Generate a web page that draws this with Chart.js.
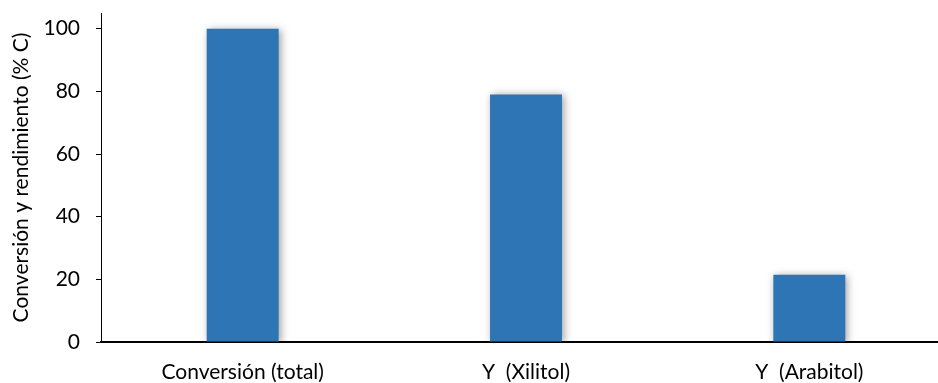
<!DOCTYPE html>
<html>
<head>
<meta charset="utf-8">
<script src="https://cdn.jsdelivr.net/npm/chart.js@4.4.1/dist/chart.umd.min.js"></script>
<style>
  html, body { margin: 0; padding: 0; background: #fff; overflow: hidden; }
  #wrap { width: 938px; height: 383px; overflow: hidden; }
  canvas { display: block; }
</style>
</head>
<body>
<div id="wrap"><canvas id="c" width="951" height="383"></canvas></div>
<script>
const categories = ['Conversión (total)', 'Y  (Xilitol)', 'Y  (Arabitol)'];
const values = [100, 79, 21.5];
const yTicks = [0, 20, 40, 60, 80, 100];
const yTitle = 'Conversión y rendimiento (% C)';

const FONT = 'Lato, "Liberation Sans", sans-serif';

// soft drop shadow behind the bars
const barShadow = {
  id: 'barShadow',
  beforeDatasetsDraw(chart) {
    const ctx = chart.ctx;
    ctx.save();
    ctx.shadowColor = 'rgba(0,0,0,0.38)';
    ctx.shadowBlur = 8;
    ctx.shadowOffsetX = 2;
    ctx.shadowOffsetY = 1;
  },
  afterDatasetsDraw(chart) {
    chart.ctx.restore();
  }
};

new Chart(document.getElementById('c'), {
  type: 'bar',
  data: {
    labels: categories,
    datasets: [{
      data: values,
      backgroundColor: '#2E75B6',
      borderWidth: 0,
      barPercentage: 0.254,
      categoryPercentage: 1
    }]
  },
  options: {
    responsive: false,
    animation: false,
    layout: { padding: { top: 13, right: 0, bottom: 0, left: 0 } },
    plugins: { legend: { display: false }, tooltip: { enabled: false } },
    scales: {
      x: {
        grid: { display: false, drawTicks: false },
        border: { display: true, color: '#000', width: 2 },
        ticks: { color: '#000', font: { family: FONT, size: 21 }, padding: 18, maxRotation: 0 },
        afterFit(scale) { scale.height = 41; }
      },
      y: {
        min: 0,
        max: 105,
        afterBuildTicks(scale) {
          scale.ticks = yTicks.map(v => ({ value: v }));
        },
        grid: { drawOnChartArea: false, drawTicks: true, tickLength: 5, color: '#000', lineWidth: 1 },
        border: { display: true, color: '#000', width: 1 },
        ticks: { color: '#000', font: { family: FONT, size: 21 }, padding: 16 },
        title: {
          display: true,
          text: yTitle,
          color: '#000',
          font: { family: FONT, size: 21 },
          padding: { top: 9, bottom: 0 }
        },
        afterFit(scale) {
          scale.width = 101;
          scale.paddingTop = 0;
          scale.paddingBottom = 0;
        }
      }
    }
  },
  plugins: [barShadow]
});
</script>
</body>
</html>
